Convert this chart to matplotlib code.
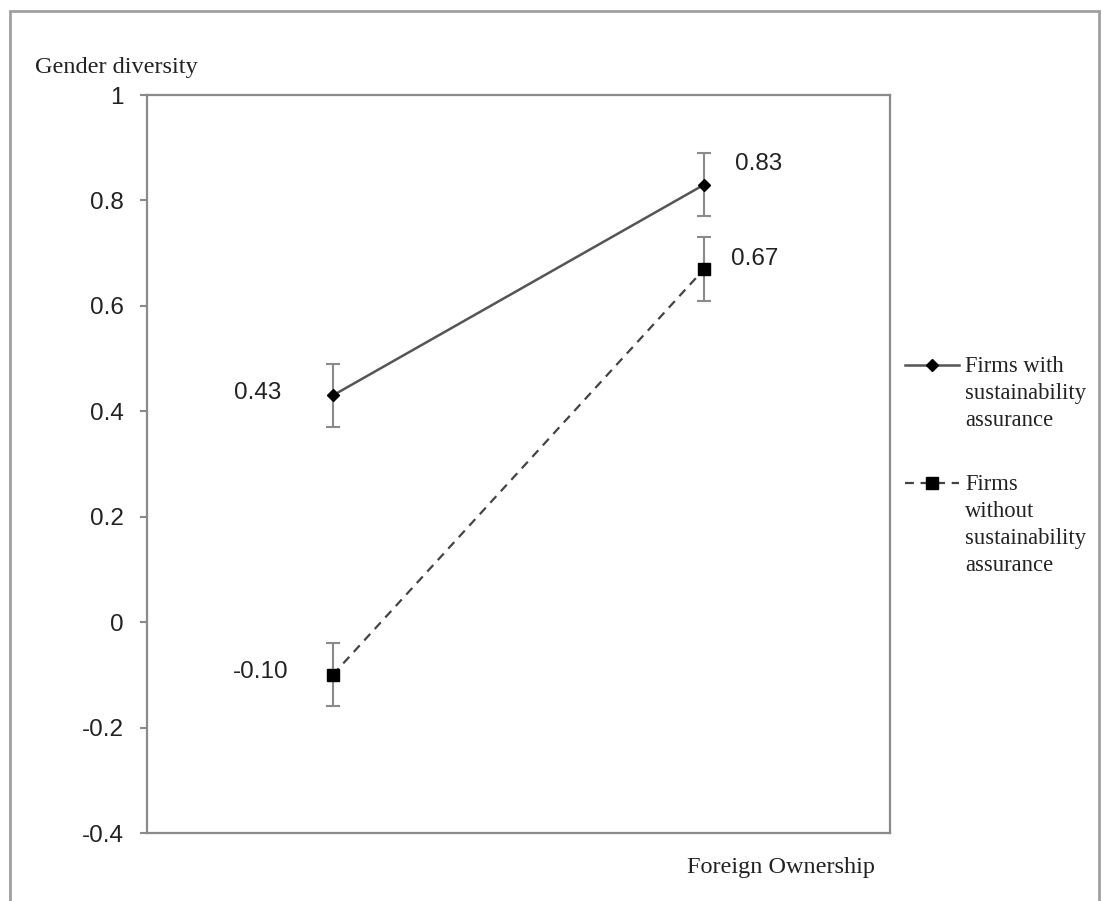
import matplotlib.pyplot as plt
from matplotlib.lines import Line2D
from matplotlib.patches import Rectangle

# chart data
x_pos = [0.25, 0.75]
with_sa = [0.43, 0.83]
without_sa = [-0.10, 0.67]
with_err = [0.06, 0.06]
without_err = [0.06, 0.06]
with_labels = ["0.43", "0.83"]
without_labels = ["-0.10", "0.67"]
y_ticks = [1, 0.8, 0.6, 0.4, 0.2, 0, -0.2, -0.4]
y_tick_labels = ["1", "0.8", "0.6", "0.4", "0.2", "0", "-0.2", "-0.4"]

SERIF = "Liberation Serif"
SANS = "Liberation Sans"
GRAY = "#8a8a8a"
TXT = "#222222"
FS = 17.5

fig = plt.figure(figsize=(11.02, 9.01), dpi=100)
ax = fig.add_axes([147 / 1102, 1 - 833 / 901, 743 / 1102, 738 / 901])

# outer frame of the picture
fig.add_artist(Rectangle((10 / 1102, -0.1), 1089 / 1102, 1.1 - 11 / 901,
                         transform=fig.transFigure, fill=False,
                         edgecolor="#a0a0a0", linewidth=2))

# series
ax.errorbar(x_pos, with_sa, yerr=with_err, fmt="none", ecolor=GRAY,
            elinewidth=1.5, capsize=5, capthick=1.5, zorder=2)
ax.errorbar(x_pos, without_sa, yerr=without_err, fmt="none", ecolor=GRAY,
            elinewidth=1.5, capsize=5, capthick=1.5, zorder=2)
ax.plot(x_pos, with_sa, color="#555555", linewidth=1.8, marker="D",
        markersize=6, markerfacecolor="black", markeredgecolor="black", zorder=3)
ax.plot(x_pos, without_sa, color="#444444", linewidth=1.6, linestyle=(0, (4, 3)),
        marker="s", markersize=8, markerfacecolor="black",
        markeredgecolor="black", zorder=3)

# value labels
label_kw = dict(textcoords="offset points", va="center", fontsize=FS,
                family=SANS, color=TXT)
ax.annotate(with_labels[0], (x_pos[0], with_sa[0]), xytext=(-37, 2),
            ha="right", **label_kw)
ax.annotate(with_labels[1], (x_pos[1], with_sa[1]), xytext=(22, 15),
            ha="left", **label_kw)
ax.annotate(without_labels[0], (x_pos[0], without_sa[0]), xytext=(-32, 2),
            ha="right", **label_kw)
ax.annotate(without_labels[1], (x_pos[1], without_sa[1]), xytext=(19, 7),
            ha="left", **label_kw)

ax.set_xlim(0, 1)
ax.set_ylim(-0.4, 1)
ax.set_xticks([])
ax.set_yticks(y_ticks)
ax.set_yticklabels(y_tick_labels, family=SANS, fontsize=FS, color=TXT)
ax.tick_params(axis="y", length=5, width=1.5, color=GRAY, pad=12)
for sp in ax.spines.values():
    sp.set_color(GRAY)
    sp.set_linewidth(1.6)

fig.text(35 / 1102, 1 - 68 / 901, "Gender diversity", family=SERIF,
         fontsize=FS, ha="left", va="center", color=TXT)
fig.text(875 / 1102, 1 - 868 / 901, "Foreign Ownership", family=SERIF,
         fontsize=FS, ha="right", va="center", color=TXT)

# legend drawn by hand so the handle sits beside the first text line
def legend_entry(y_px, label, **style):
    y = 1 - y_px / 901
    fig.add_artist(Line2D([905 / 1102, 932 / 1102, 959 / 1102], [y, y, y],
                          transform=fig.transFigure, markevery=[1], **style))
    fig.text(965 / 1102, y + 9 / 901, label, family=SERIF, fontsize=16.3,
             ha="left", va="top", color=TXT, linespacing=1.38)

legend_entry(365, "Firms with\nsustainability\nassurance",
             color="#555555", linewidth=1.8, marker="D", markersize=6,
             markerfacecolor="black", markeredgecolor="black")
legend_entry(483, "Firms\nwithout\nsustainability\nassurance",
             color="#444444", linewidth=1.6, linestyle=(0, (4, 3)), marker="s",
             markersize=8, markerfacecolor="black", markeredgecolor="black")

fig.savefig("out.png", dpi=100)
